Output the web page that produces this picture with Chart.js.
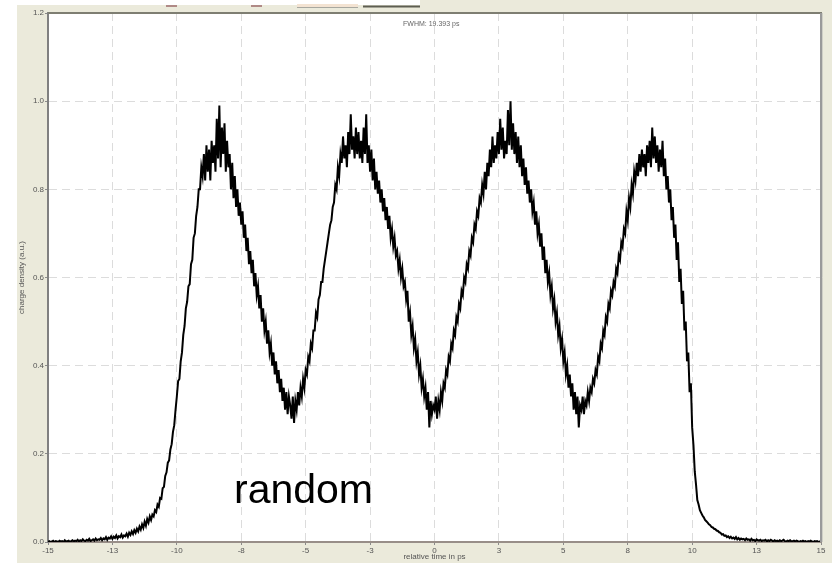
<!DOCTYPE html>
<html><head><meta charset="utf-8">
<script src="https://cdn.jsdelivr.net/npm/chart.js@4/dist/chart.umd.min.js"></script>
<style>html,body{margin:0;padding:0;background:#fff}#wrap{width:832px;height:563px;position:relative}</style>
</head><body><div id="wrap"><canvas id="c" width="832" height="563"></canvas></div>
<script>
// sampling grid (ps)
const timeStart = -15;
const timeStep = 0.05;
// charge density, t = -15.00 ... 15.00 every 0.05 ps (20 values per ps)
const density = [
 0.000,0.002,0.000,0.001,0.003,0.000,0.002,0.001,0.000,0.003,0.001,0.002,0.000,0.004,0.001,0.002,0.003,0.000,0.002,0.004,
 0.001,0.003,0.002,0.005,0.001,0.004,0.002,0.006,0.003,0.002,0.005,0.003,0.007,0.002,0.004,0.006,0.003,0.008,0.004,0.006,
 0.005,0.009,0.004,0.008,0.006,0.011,0.005,0.010,0.008,0.013,0.007,0.012,0.009,0.015,0.008,0.013,0.011,0.017,0.010,0.015,
 0.013,0.019,0.012,0.021,0.016,0.024,0.018,0.027,0.021,0.030,0.024,0.035,0.028,0.040,0.032,0.046,0.037,0.052,0.044,0.058,
 0.050,0.062,0.058,0.072,0.068,0.085,0.080,0.100,0.098,0.122,0.125,0.150,0.158,0.180,0.185,0.210,0.222,0.250,0.265,0.300,
 0.330,0.365,0.370,0.410,0.430,0.470,0.490,0.530,0.545,0.580,0.585,0.630,0.640,0.690,0.700,0.740,0.760,0.800,0.800,0.850,
 0.830,0.880,0.820,0.900,0.840,0.890,0.820,0.910,0.860,0.900,0.840,0.960,0.870,0.990,0.850,0.940,0.880,0.950,0.840,0.910,
 0.850,0.880,0.800,0.860,0.780,0.830,0.760,0.800,0.740,0.770,0.720,0.750,0.690,0.720,0.660,0.690,0.630,0.660,0.610,0.640,
 0.580,0.610,0.560,0.580,0.530,0.560,0.500,0.530,0.480,0.500,0.450,0.480,0.430,0.450,0.400,0.430,0.380,0.410,0.360,0.390,
 0.340,0.370,0.320,0.350,0.300,0.340,0.290,0.330,0.310,0.280,0.330,0.270,0.320,0.300,0.340,0.310,0.350,0.330,0.370,0.350,
 0.390,0.380,0.420,0.410,0.450,0.440,0.480,0.480,0.520,0.510,0.550,0.560,0.590,0.590,0.620,0.640,0.660,0.680,0.700,0.720,
 0.730,0.760,0.770,0.810,0.800,0.850,0.830,0.880,0.860,0.920,0.870,0.900,0.850,0.930,0.880,0.970,0.890,0.920,0.870,0.940,
 0.880,0.930,0.870,0.910,0.860,0.940,0.880,0.970,0.860,0.900,0.840,0.890,0.820,0.870,0.800,0.840,0.790,0.820,0.770,0.800,
 0.750,0.780,0.730,0.760,0.710,0.740,0.690,0.710,0.670,0.690,0.650,0.660,0.620,0.640,0.600,0.620,0.580,0.590,0.550,0.570,
 0.500,0.520,0.470,0.490,0.440,0.460,0.410,0.430,0.380,0.400,0.350,0.370,0.330,0.350,0.300,0.340,0.260,0.320,0.290,0.310,
 0.300,0.330,0.280,0.320,0.300,0.340,0.320,0.360,0.350,0.390,0.380,0.420,0.410,0.450,0.440,0.480,0.470,0.510,0.500,0.540,
 0.530,0.570,0.560,0.600,0.590,0.630,0.620,0.660,0.650,0.690,0.680,0.720,0.710,0.750,0.740,0.780,0.770,0.810,0.790,0.840,
 0.800,0.860,0.830,0.890,0.850,0.920,0.860,0.900,0.870,0.930,0.880,0.960,0.890,0.940,0.870,0.910,0.880,0.980,0.900,1.000,
 0.890,0.950,0.880,0.930,0.860,0.920,0.850,0.900,0.830,0.870,0.810,0.850,0.790,0.820,0.770,0.800,0.750,0.770,0.720,0.750,
 0.700,0.720,0.670,0.700,0.640,0.670,0.610,0.640,0.590,0.610,0.560,0.580,0.530,0.550,0.500,0.520,0.470,0.490,0.440,0.460,
 0.410,0.430,0.380,0.400,0.350,0.380,0.330,0.360,0.300,0.340,0.290,0.330,0.260,0.310,0.300,0.330,0.290,0.320,0.310,0.340,
 0.320,0.350,0.340,0.370,0.360,0.390,0.380,0.420,0.410,0.450,0.440,0.480,0.470,0.510,0.500,0.540,0.530,0.570,0.560,0.590,
 0.580,0.620,0.610,0.650,0.640,0.680,0.670,0.710,0.700,0.750,0.730,0.780,0.760,0.810,0.790,0.840,0.820,0.860,0.830,0.880,
 0.840,0.890,0.850,0.880,0.830,0.900,0.860,0.910,0.850,0.940,0.870,0.920,0.860,0.900,0.840,0.890,0.850,0.910,0.830,0.870,
 0.800,0.830,0.770,0.800,0.730,0.760,0.690,0.720,0.640,0.680,0.590,0.620,0.540,0.570,0.480,0.500,0.410,0.430,0.340,0.360,
 0.260,0.220,0.160,0.130,0.095,0.085,0.072,0.066,0.060,0.056,0.050,0.047,0.044,0.040,0.038,0.034,0.033,0.030,0.029,0.026,
 0.025,0.022,0.021,0.017,0.018,0.014,0.015,0.011,0.013,0.009,0.012,0.008,0.010,0.007,0.011,0.006,0.009,0.005,0.008,0.006,
 0.007,0.004,0.008,0.005,0.006,0.003,0.007,0.004,0.005,0.002,0.006,0.004,0.003,0.005,0.002,0.004,0.003,0.005,0.001,0.004,
 0.002,0.005,0.003,0.001,0.004,0.002,0.003,0.001,0.004,0.002,0.003,0.005,0.002,0.001,0.003,0.002,0.004,0.001,0.002,0.003,
 0.001,0.003,0.002,0.000,0.002,0.001,0.003,0.001,0.002,0.000,0.002,0.001,0.003,0.001,0.000,0.002,0.001,0.002,0.000,0.001,0.001
];
const xTickValues = [-15,-12.5,-10,-7.5,-5,-2.5,0,2.5,5,7.5,10,12.5,15];
const xTickLabels = ["-15","-13","-10","-8","-5","-3","0","3","5","8","10","13","15"];
const yTickValues = [0,0.2,0.4,0.6,0.8,1.0,1.2];
const yTickLabels = ["0.0","0.2","0.4","0.6","0.8","1.0","1.2"];
const titleText = "FWHM: 19.393 ps";
const noteText = "random";
const xTitle = "relative time in ps";
const yTitle = "charge density (a.u.)";

const points = density.map((v, i) => ({x: timeStart + i * timeStep, y: v}));

const FONT = "'Liberation Sans', Arial, sans-serif";
const deco = {
  id: 'deco',
  beforeDraw(chart) {
    const ctx = chart.ctx, a = chart.chartArea;
    ctx.save();
    ctx.fillStyle = '#ffffff';
    ctx.fillRect(0, 0, chart.width, chart.height);
    ctx.fillStyle = '#ebeadb';
    ctx.fillRect(17, 0, chart.width - 17, chart.height);
    ctx.fillStyle = '#ffffff';
    ctx.fillRect(17, 0, 403, 5);
    ctx.fillStyle = '#ffffff';
    ctx.fillRect(a.left, a.top, a.right - a.left, a.bottom - a.top);
    ctx.restore();
  },
  afterDraw(chart) {
    const ctx = chart.ctx, a = chart.chartArea;
    ctx.save();
    // frame top and right
    ctx.strokeStyle = '#7e7e72';
    ctx.lineWidth = 2;
    ctx.beginPath(); ctx.moveTo(a.left, a.top); ctx.lineTo(a.right + 1, a.top); ctx.stroke();
    ctx.strokeStyle = '#9a9a9a';
    ctx.beginPath(); ctx.moveTo(a.right, a.top); ctx.lineTo(a.right, a.bottom); ctx.stroke();
    ctx.strokeStyle = '#cfcfc6';
    ctx.lineWidth = 1;
    ctx.beginPath(); ctx.moveTo(a.right + 1.5, a.top); ctx.lineTo(a.right + 1.5, a.bottom); ctx.stroke();
    // cut-off widgets above the plot
    ctx.strokeStyle = '#b08a86'; ctx.lineWidth = 2;
    ctx.beginPath(); ctx.moveTo(166, 6); ctx.lineTo(177, 6); ctx.moveTo(251, 6); ctx.lineTo(262, 6); ctx.stroke();
    ctx.fillStyle = '#f3e3d2'; ctx.fillRect(297, 4, 61, 3);
    ctx.strokeStyle = '#a8a8a0'; ctx.lineWidth = 1;
    ctx.beginPath(); ctx.moveTo(297, 7.5); ctx.lineTo(358, 7.5); ctx.stroke();
    ctx.strokeStyle = '#5e5e52'; ctx.lineWidth = 2;
    ctx.beginPath(); ctx.moveTo(363, 6.5); ctx.lineTo(420, 6.5); ctx.stroke();
    // FWHM text
    ctx.fillStyle = '#666';
    ctx.font = '7px ' + FONT;
    ctx.textBaseline = 'middle';
    ctx.textAlign = 'left';
    ctx.fillText(titleText, 403, 24);
    // note
    ctx.fillStyle = '#000';
    ctx.font = '41px ' + FONT;
    ctx.textBaseline = 'alphabetic';
    ctx.fillText(noteText, 234, 503);
    ctx.restore();
  }
};

new Chart(document.getElementById('c'), {
  type: 'line',
  data: { datasets: [{
    data: points,
    borderColor: '#000',
    borderWidth: 2,
    pointRadius: 0,
    tension: 0,
    fill: false
  }]},
  options: {
    responsive: false,
    animation: false,
    devicePixelRatio: 1,
    layout: { padding: { left: 17, top: 13, right: 11, bottom: 0 } },
    plugins: { legend: { display: false }, tooltip: { enabled: false }, title: { display: false } },
    scales: {
      x: {
        type: 'linear', min: -15, max: 15,
        afterBuildTicks: s => { s.ticks = xTickValues.map(v => ({value: v})); },
        afterFit: s => { s.height = 21; },
        ticks: {
          autoSkip: false, maxRotation: 0, padding: 1,
          color: '#555', font: { family: FONT, size: 8 },
          callback: (v) => xTickLabels[xTickValues.indexOf(v)]
        },
        grid: { color: '#dcdcdc', tickColor: '#8a8a8a', tickLength: 3, lineWidth: 1 },
        border: { color: '#988e88', width: 2, dash: [8, 5] },
        title: { display: true, text: xTitle, color: '#555', font: { family: FONT, size: 8 }, padding: { top: 0, bottom: 1 } }
      },
      y: {
        min: 0, max: 1.2,
        afterBuildTicks: s => { s.ticks = yTickValues.map(v => ({value: v})); },
        afterFit: s => { s.width = 31; },
        ticks: {
          padding: 1, color: '#555', font: { family: FONT, size: 8 },
          callback: (v) => yTickLabels[yTickValues.indexOf(v)]
        },
        grid: { color: '#dcdcdc', tickColor: '#8a8a8a', tickLength: 3, lineWidth: 1 },
        border: { color: '#808080', width: 2, dash: [8, 5] },
        title: { display: true, text: yTitle, color: '#555', font: { family: FONT, size: 8 }, padding: { top: 0, bottom: 0 } }
      }
    }
  },
  plugins: [deco]
});
</script>
</body></html>
